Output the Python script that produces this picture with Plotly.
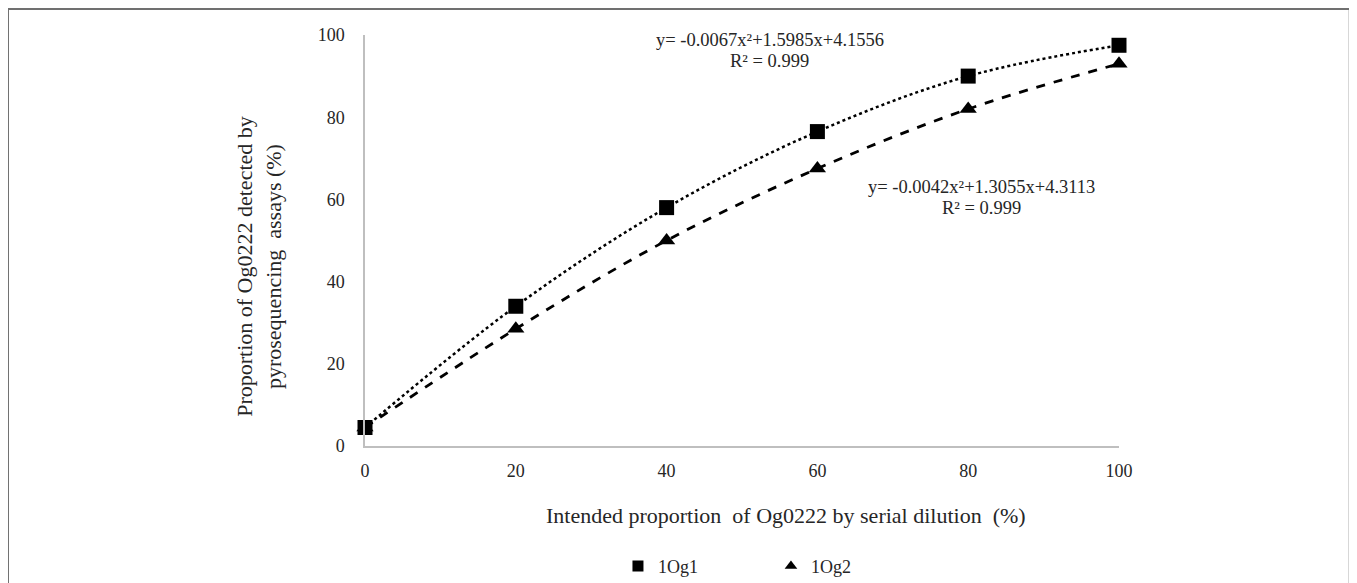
import plotly.graph_objects as go

x_vals = [0, 20, 40, 60, 80, 100]
og1_vals = [4.5, 34, 58, 76.5, 90, 97.5]
og2_vals = [4.5, 28.5, 50, 67.5, 82, 93]
series_names = ["1Og1", "1Og2"]
eq1_lines = ["y= -0.0067x²+1.5985x+4.1556", "R² = 0.999"]
eq2_lines = ["y= -0.0042x²+1.3055x+4.3113", "R² = 0.999"]
x_title = "Intended proportion  of Og0222 by serial dilution  (%)"
y_title = "Proportion of Og0222 detected by<br>pyrosequencing  assays (%)"
tick_vals = [0, 20, 40, 60, 80, 100]

FONT = "Liberation Serif"
TXT = "#262626"

fig = go.Figure()
# trend curves
fig.add_trace(go.Scatter(x=x_vals, y=og1_vals, mode="lines", line=dict(color="black", width=2.5, dash="dot", shape="spline"),
                         showlegend=False, hoverinfo="skip", cliponaxis=False))
fig.add_trace(go.Scatter(x=x_vals, y=og2_vals, mode="lines", line=dict(color="black", width=2.8, dash="dash", shape="spline"),
                         showlegend=False, hoverinfo="skip", cliponaxis=False))
# markers
fig.add_trace(go.Scatter(x=x_vals, y=og2_vals, mode="markers", marker=dict(symbol="triangle-up", size=15, color="black"),
                         showlegend=False, cliponaxis=False))
fig.add_trace(go.Scatter(x=x_vals, y=og1_vals, mode="markers", marker=dict(symbol="square", size=15, color="black"),
                         showlegend=False, cliponaxis=False))
# legend entries
fig.add_trace(go.Scatter(x=[None], y=[None], mode="markers", name=series_names[0],
                         marker=dict(symbol="square", size=11, color="black")))
fig.add_trace(go.Scatter(x=[None], y=[None], mode="markers", name=series_names[1],
                         marker=dict(symbol="triangle-up", size=11, color="black")))

ann_font = dict(family=FONT, size=18.5, color=TXT)
annotations = [
    dict(text=eq1_lines[0], x=0.5371, y=0.9878),
    dict(text=eq1_lines[1], x=0.5371, y=0.9367),
    dict(text=eq2_lines[0], x=0.8183, y=0.6302),
    dict(text=eq2_lines[1], x=0.8183, y=0.5791),
]
annotations = [dict(a, xref="paper", yref="paper", showarrow=False, font=ann_font,
                    xanchor="center", yanchor="middle") for a in annotations]
annotations += [
    dict(text=x_title, x=0.5584, y=-0.1679, xref="paper", yref="paper", showarrow=False,
         xanchor="center", yanchor="middle", font=dict(family=FONT, size=22, color=TXT)),
    dict(text=y_title, x=-0.14, y=0.437, xref="paper", yref="paper", showarrow=False, textangle=-90,
         xanchor="center", yanchor="middle", font=dict(family=FONT, size=22, color=TXT), align="center"),
]

fig.update_layout(
    width=1349, height=575,
    margin=dict(l=357, r=238, t=27, b=137, autoexpand=False),
    plot_bgcolor="white", paper_bgcolor="white",
    font=dict(family=FONT, size=18, color=TXT),
    legend=dict(orientation="h", x=0.3355, y=-0.2927, xanchor="left", yanchor="middle",
                font=dict(family=FONT, size=18, color=TXT), entrywidth=108, entrywidthmode="pixels"),
    xaxis=dict(range=[0, 100], tickvals=tick_vals, showgrid=False, zeroline=False,
               showline=True, linecolor="#bfbfbf", linewidth=1.5, ticks="", ticklabelstandoff=8,
               tickfont=dict(family=FONT, size=18, color=TXT)),
    yaxis=dict(range=[0, 100], tickvals=tick_vals, showgrid=False, zeroline=False,
               showline=True, linecolor="#bfbfbf", linewidth=1.5, ticks="", ticklabelstandoff=15,
               tickfont=dict(family=FONT, size=18, color=TXT)),
    annotations=annotations,
    shapes=[dict(type="rect", xref="paper", yref="paper", x0=-0.4735, x1=1.306, y0=-0.4, y1=1.0633,
                 line=dict(color="#707070", width=2), fillcolor="rgba(0,0,0,0)", layer="below")],
)

fig.write_html("out.html")
